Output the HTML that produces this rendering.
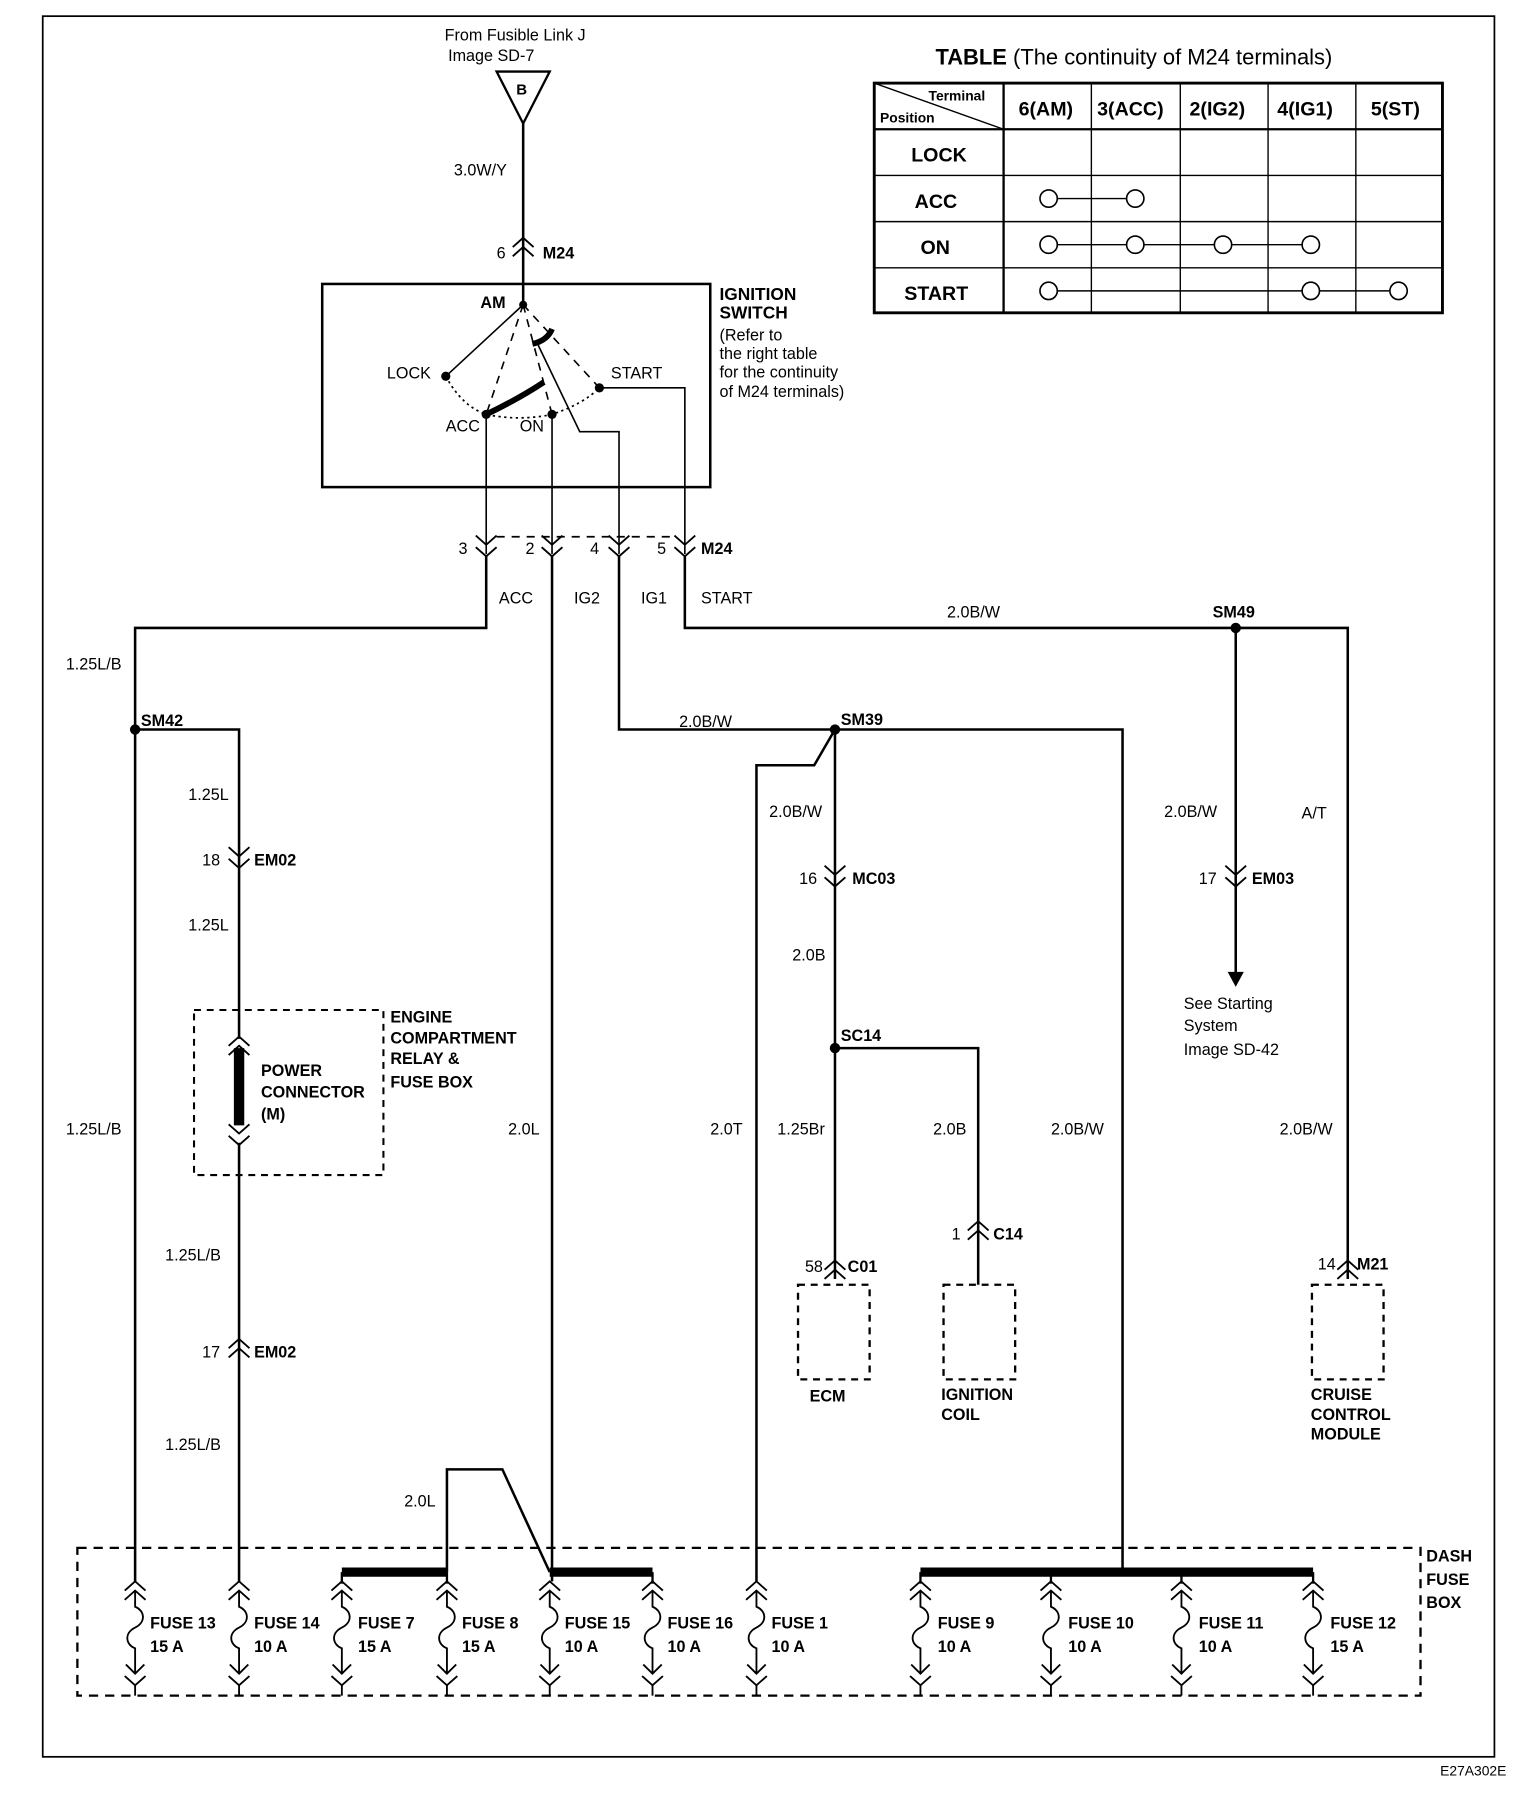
<!DOCTYPE html>
<html><head><meta charset="utf-8"><style>
html,body{margin:0;padding:0;background:#fff;}
svg{display:block;}
text{font-family:"Liberation Sans",sans-serif;font-size:14px;fill:#000;}
.b{font-weight:bold;}
</style></head><body>
<svg width="1536" height="1818" viewBox="0 0 1330 1575" preserveAspectRatio="none" xmlns="http://www.w3.org/2000/svg">
<defs>
<g id="cd"><polyline points="-9,-14 0,-6 9,-14" fill="none" stroke="#000" stroke-width="1.6"/><polyline points="-9,-4 0,4 9,-4" fill="none" stroke="#000" stroke-width="1.6"/></g>
<g id="cu"><polyline points="-9,6 0,-2 9,6" fill="none" stroke="#000" stroke-width="1.6"/><polyline points="-9,14 0,6 9,14" fill="none" stroke="#000" stroke-width="1.6"/></g>
<g id="fuse" fill="none" stroke="#000" stroke-width="1.6">
<polyline points="-9,1378 0,1370 9,1378"/><polyline points="-9,1386 0,1378 9,1386"/>
<path d="M0,1378 L0,1392 C8,1395 10,1405 0,1410 C-10,1415 -8,1425 0,1428 L0,1450"/>
<polyline points="-8,1442 0,1450 8,1442"/><polyline points="-9,1452 0,1460 9,1452"/><line x1="0" y1="1460" x2="0" y2="1469"/>
</g>
</defs>
<rect x="37" y="14" width="1257" height="1508" fill="none" stroke="#000" stroke-width="1.5"/>
<text x="385" y="35">From Fusible Link J</text>
<text x="388" y="53">Image  SD-7</text>
<polygon points="430,62 476,62 453,107" fill="none" stroke="#000" stroke-width="2"/>
<text x="447" y="82" class="b" style="font-size:13px">B</text>
<g stroke="#000" fill="none" stroke-width="2.2">
<line x1="453" y1="107" x2="453" y2="262"/>
</g>
<use href="#cu" x="453" y="208"/>
<text x="393" y="152">3.0W/Y</text>
<text x="430" y="224">6</text><text x="470" y="224" class="b">M24</text>
<rect x="279" y="246" width="336" height="176" fill="none" stroke="#000" stroke-width="2.2"/>
<text x="416" y="267" class="b">AM</text>
<text x="335" y="328">LOCK</text>
<text x="529" y="328">START</text>
<text x="386" y="374">ACC</text>
<text x="450" y="374">ON</text>
<text x="623" y="260" class="b" style="font-size:15px">IGNITION</text>
<text x="623" y="276" class="b" style="font-size:15px">SWITCH</text>
<text x="623" y="295">(Refer to</text>
<text x="623" y="311">the right table</text>
<text x="623" y="327">for the continuity</text>
<text x="623" y="344">of M24 terminals)</text>
<g stroke="#000" fill="none">
<path d="M386,326 Q400,352 421,359 Q450,365 478,359 Q505,350 519,336" stroke-width="1.5" stroke-dasharray="2,3"/>
<line x1="453" y1="264" x2="386" y2="326" stroke-width="1.4"/>
<line x1="453" y1="264" x2="421" y2="359" stroke-width="1.4" stroke-dasharray="7,6"/>
<line x1="453" y1="264" x2="478" y2="359" stroke-width="1.4" stroke-dasharray="7,6"/>
<line x1="453" y1="264" x2="519" y2="336" stroke-width="1.4" stroke-dasharray="7,6"/>
<path d="M421,359 Q450,345 471,331" stroke-width="5"/>
<path d="M461,298 Q474,295 478,285" stroke-width="5"/>
<polyline points="466,299 502,374 536,374 536,480" stroke-width="1.4"/>
<polyline points="519,336 593,336 593,480" stroke-width="1.4"/>
<line x1="421" y1="359" x2="421" y2="480" stroke-width="1.4"/>
<line x1="478" y1="359" x2="478" y2="480" stroke-width="1.4"/>
</g>
<g fill="#000"><circle cx="453" cy="264" r="3.5"/><circle cx="386" cy="326" r="4"/><circle cx="421" cy="359" r="4"/><circle cx="478" cy="359" r="4"/><circle cx="519" cy="336" r="4"/></g>
<line x1="430" y1="465" x2="586" y2="465" stroke="#000" stroke-width="1.5" stroke-dasharray="7,6"/>
<use href="#cd" x="421" y="478"/><use href="#cd" x="478" y="478"/><use href="#cd" x="536" y="478"/><use href="#cd" x="593" y="478"/>
<text x="397" y="480">3</text><text x="455" y="480">2</text><text x="511" y="480">4</text><text x="569" y="480">5</text><text x="607" y="480" class="b">M24</text>
<text x="432" y="523">ACC</text><text x="497" y="523">IG2</text><text x="555" y="523">IG1</text><text x="607" y="523">START</text>
<g stroke="#000" fill="none" stroke-width="2.2">
<polyline points="421,482 421,544 117,544 117,1370"/>
<polyline points="117,632 207,632 207,900"/>
<polyline points="207,990 207,1370"/>
<line x1="478" y1="482" x2="478" y2="1370"/>
<polyline points="536,482 536,632 972,632 972,1362"/>
<line x1="723" y1="632" x2="723" y2="1108"/>
<polyline points="723,632 705,663 655,663 655,1370"/>
<polyline points="723,908 847,908 847,1113"/>
<polyline points="593,482 593,544 1167,544 1167,1108"/>
<line x1="1070" y1="544" x2="1070" y2="845"/>
<polyline points="387,1362 387,1273 435,1273 476,1362"/>
<line x1="207" y1="908" x2="207" y2="975" stroke-width="9"/>
</g>
<polygon points="1063,842 1077,842 1070,855" fill="#000"/>
<g fill="#000"><circle cx="117" cy="632" r="4.5"/><circle cx="723" cy="632" r="4.5"/><circle cx="723" cy="908" r="4.5"/><circle cx="1070" cy="544" r="4.5"/></g>
<use href="#cd" x="207" y="748"/><use href="#cu" x="207" y="1162"/><use href="#cu" x="207" y="900"/><use href="#cd" x="207" y="988"/>
<use href="#cd" x="723" y="764"/><use href="#cd" x="1070" y="764"/>
<use href="#cu" x="847" y="1060"/><use href="#cu" x="723" y="1094"/><use href="#cu" x="1167" y="1094"/>
<text x="57" y="580">1.25L/B</text><text x="122" y="629" class="b">SM42</text>
<text x="163" y="693">1.25L</text><text x="175" y="750">18</text><text x="220" y="750" class="b">EM02</text>
<text x="163" y="806">1.25L</text>
<rect x="168" y="875" width="164" height="143" fill="none" stroke="#000" stroke-width="1.8" stroke-dasharray="6,5"/>
<text x="226" y="932" class="b">POWER</text><text x="226" y="951" class="b">CONNECTOR</text><text x="226" y="970" class="b">(M)</text>
<text x="338" y="886" class="b">ENGINE</text><text x="338" y="904" class="b">COMPARTMENT</text><text x="338" y="922" class="b">RELAY &amp;</text><text x="338" y="942" class="b">FUSE BOX</text>
<text x="57" y="983">1.25L/B</text><text x="143" y="1092">1.25L/B</text>
<text x="175" y="1176">17</text><text x="220" y="1176" class="b">EM02</text>
<text x="143" y="1256">1.25L/B</text>
<text x="440" y="983">2.0L</text><text x="350" y="1305">2.0L</text>
<text x="588" y="630">2.0B/W</text><text x="728" y="628" class="b">SM39</text>
<text x="666" y="708">2.0B/W</text><text x="692" y="766">16</text><text x="738" y="766" class="b">MC03</text>
<text x="686" y="832">2.0B</text><text x="728" y="902" class="b">SC14</text>
<text x="615" y="983">2.0T</text><text x="673" y="983">1.25Br</text><text x="808" y="983">2.0B</text><text x="910" y="983">2.0B/W</text>
<text x="824" y="1074">1</text><text x="860" y="1074" class="b">C14</text>
<text x="697" y="1102">58</text><text x="734" y="1102" class="b">C01</text>
<rect x="691" y="1113" width="62" height="82" fill="none" stroke="#000" stroke-width="2" stroke-dasharray="6,5"/>
<rect x="817" y="1113" width="62" height="82" fill="none" stroke="#000" stroke-width="2" stroke-dasharray="6,5"/>
<rect x="1136" y="1113" width="62" height="82" fill="none" stroke="#000" stroke-width="2" stroke-dasharray="6,5"/>
<text x="701" y="1214" class="b">ECM</text>
<text x="815" y="1213" class="b">IGNITION</text><text x="815" y="1230" class="b">COIL</text>
<text x="820" y="535">2.0B/W</text><text x="1050" y="535" class="b">SM49</text>
<text x="1008" y="708">2.0B/W</text><text x="1127" y="709">A/T</text>
<text x="1038" y="766">17</text><text x="1084" y="766" class="b">EM03</text>
<text x="1025" y="874">See Starting</text><text x="1025" y="893">System</text><text x="1025" y="914">Image  SD-42</text>
<text x="1108" y="983">2.0B/W</text>
<text x="1141" y="1100">14</text><text x="1175" y="1100" class="b">M21</text>
<text x="1135" y="1213" class="b">CRUISE</text><text x="1135" y="1230" class="b">CONTROL</text><text x="1135" y="1247" class="b">MODULE</text>
<rect x="67" y="1341" width="1163" height="128" fill="none" stroke="#000" stroke-width="2" stroke-dasharray="8,6"/>
<text x="1235" y="1353" class="b">DASH</text><text x="1235" y="1373" class="b">FUSE</text><text x="1235" y="1393" class="b">BOX</text>
<g stroke="#000" stroke-width="8"><line x1="296" y1="1362" x2="387" y2="1362"/><line x1="476" y1="1362" x2="565" y2="1362"/><line x1="797" y1="1362" x2="1137" y2="1362"/></g>
<g stroke="#000" stroke-width="2"><line x1="296" y1="1362" x2="296" y2="1372"/><line x1="387" y1="1362" x2="387" y2="1372"/><line x1="565" y1="1362" x2="565" y2="1372"/><line x1="797" y1="1362" x2="797" y2="1372"/><line x1="910" y1="1362" x2="910" y2="1372"/><line x1="1023" y1="1362" x2="1023" y2="1372"/><line x1="1137" y1="1362" x2="1137" y2="1372"/></g>
<use href="#fuse" x="117"/><use href="#fuse" x="207"/><use href="#fuse" x="296"/><use href="#fuse" x="387"/><use href="#fuse" x="476"/><use href="#fuse" x="565"/><use href="#fuse" x="655"/><use href="#fuse" x="797"/><use href="#fuse" x="910"/><use href="#fuse" x="1023"/><use href="#fuse" x="1137"/>
<g class="b" style="font-weight:bold;font-size:15px">
<text x="130" y="1411" class="b">FUSE 13</text><text x="130" y="1431" class="b">15 A</text>
<text x="220" y="1411" class="b">FUSE 14</text><text x="220" y="1431" class="b">10 A</text>
<text x="310" y="1411" class="b">FUSE 7</text><text x="310" y="1431" class="b">15 A</text>
<text x="400" y="1411" class="b">FUSE 8</text><text x="400" y="1431" class="b">15 A</text>
<text x="489" y="1411" class="b">FUSE 15</text><text x="489" y="1431" class="b">10 A</text>
<text x="578" y="1411" class="b">FUSE 16</text><text x="578" y="1431" class="b">10 A</text>
<text x="668" y="1411" class="b">FUSE 1</text><text x="668" y="1431" class="b">10 A</text>
<text x="812" y="1411" class="b">FUSE 9</text><text x="812" y="1431" class="b">10 A</text>
<text x="925" y="1411" class="b">FUSE 10</text><text x="925" y="1431" class="b">10 A</text>
<text x="1038" y="1411" class="b">FUSE 11</text><text x="1038" y="1431" class="b">10 A</text>
<text x="1152" y="1411" class="b">FUSE 12</text><text x="1152" y="1431" class="b">15 A</text>
</g>
<text x="810" y="56" style="font-size:19px"><tspan font-weight="bold">TABLE</tspan> (The continuity of M24 terminals)</text>
<g stroke="#000" fill="none">
<rect x="757" y="72" width="492" height="199" stroke-width="2.5"/>
<line x1="869" y1="72" x2="869" y2="271" stroke-width="2"/>
<line x1="945" y1="72" x2="945" y2="271" stroke-width="1.2"/>
<line x1="1022" y1="72" x2="1022" y2="271" stroke-width="1.2"/>
<line x1="1098" y1="72" x2="1098" y2="271" stroke-width="1.2"/>
<line x1="1174" y1="72" x2="1174" y2="271" stroke-width="1.2"/>
<line x1="757" y1="112" x2="1249" y2="112" stroke-width="2"/>
<line x1="757" y1="152" x2="1249" y2="152" stroke-width="1.2"/>
<line x1="757" y1="192" x2="1249" y2="192" stroke-width="1.2"/>
<line x1="757" y1="232" x2="1249" y2="232" stroke-width="1.2"/>
<line x1="757" y1="72" x2="869" y2="112" stroke-width="1.2"/>
<line x1="915" y1="172" x2="975" y2="172" stroke-width="1.2"/>
<line x1="915" y1="212" x2="1128" y2="212" stroke-width="1.2"/>
<line x1="915" y1="252" x2="1203" y2="252" stroke-width="1.2"/>
</g>
<g stroke="#000" fill="#fff" stroke-width="1.4">
<circle cx="908" cy="172" r="7.5"/><circle cx="983" cy="172" r="7.5"/>
<circle cx="908" cy="212" r="7.5"/><circle cx="983" cy="212" r="7.5"/><circle cx="1059" cy="212" r="7.5"/><circle cx="1135" cy="212" r="7.5"/>
<circle cx="908" cy="252" r="7.5"/><circle cx="1135" cy="252" r="7.5"/><circle cx="1211" cy="252" r="7.5"/>
</g>
<text x="804" y="87" class="b" style="font-size:12px">Terminal</text>
<text x="762" y="106" class="b" style="font-size:12px">Position</text>
<g style="font-size:17px;font-weight:bold" font-weight="bold">
<text x="882" y="100" font-weight="bold" style="font-size:17px">6(AM)</text>
<text x="950" y="100" font-weight="bold" style="font-size:17px">3(ACC)</text>
<text x="1030" y="100" font-weight="bold" style="font-size:17px">2(IG2)</text>
<text x="1106" y="100" font-weight="bold" style="font-size:17px">4(IG1)</text>
<text x="1187" y="100" font-weight="bold" style="font-size:17px">5(ST)</text>
<text x="789" y="140" font-weight="bold" style="font-size:17px">LOCK</text>
<text x="792" y="180" font-weight="bold" style="font-size:17px">ACC</text>
<text x="797" y="220" font-weight="bold" style="font-size:17px">ON</text>
<text x="783" y="260" font-weight="bold" style="font-size:17px">START</text>
</g>
<text x="1247" y="1538" style="font-size:12px">E27A302E</text>
</svg>
</body></html>
